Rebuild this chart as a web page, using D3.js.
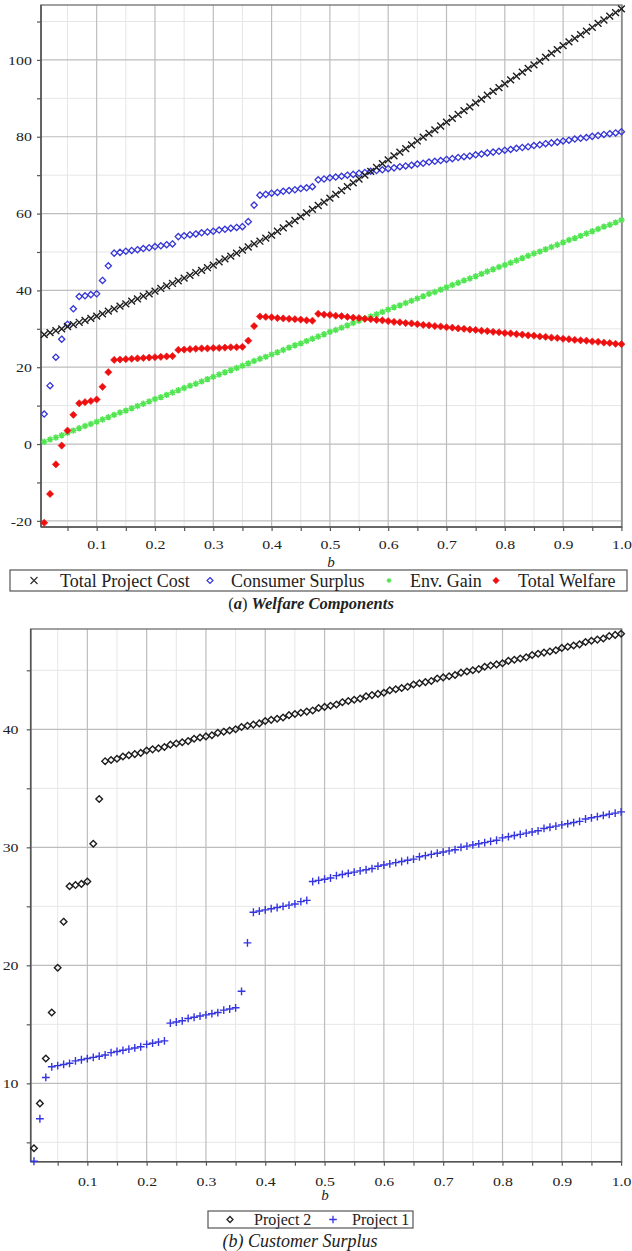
<!DOCTYPE html>
<html>
<head>
<meta charset="utf-8">
<script src="https://cdn.jsdelivr.net/npm/d3@7"></script>
<style>
  body { margin: 0; background: #fff; }
  svg text { font-family: "Liberation Serif", "Times New Roman", serif; fill: #222; }
</style>
</head>
<body>
<div id="container"></div>
<script>
/* DATA */
const bValues = [0.01,0.02,0.03,0.04,0.05,0.06,0.07,0.08,0.09,0.10,
  0.11,0.12,0.13,0.14,0.15,0.16,0.17,0.18,0.19,0.20,
  0.21,0.22,0.23,0.24,0.25,0.26,0.27,0.28,0.29,0.30,
  0.31,0.32,0.33,0.34,0.35,0.36,0.37,0.38,0.39,0.40,
  0.41,0.42,0.43,0.44,0.45,0.46,0.47,0.48,0.49,0.50,
  0.51,0.52,0.53,0.54,0.55,0.56,0.57,0.58,0.59,0.60,
  0.61,0.62,0.63,0.64,0.65,0.66,0.67,0.68,0.69,0.70,
  0.71,0.72,0.73,0.74,0.75,0.76,0.77,0.78,0.79,0.80,
  0.81,0.82,0.83,0.84,0.85,0.86,0.87,0.88,0.89,0.90,
  0.91,0.92,0.93,0.94,0.95,0.96,0.97,0.98,0.99,1.00]

// (a) Welfare Components
const totalProjectCost = [28.5,29.0,29.5,30.0,30.6,31.1,31.7,32.2,32.7,33.3,
  33.9,34.6,35.2,35.9,36.5,37.2,37.8,38.5,39.1,39.8,
  40.5,41.2,41.8,42.5,43.2,43.9,44.6,45.2,45.9,46.6,
  47.4,48.2,48.9,49.7,50.5,51.3,52.1,52.8,53.6,54.4,
  55.4,56.3,57.3,58.2,59.2,60.2,61.1,62.1,63.0,64.0,
  65.0,66.0,67.0,68.0,69.0,70.0,71.0,72.0,73.0,74.0,
  75.0,76.0,76.9,77.9,78.9,79.9,80.9,81.8,82.8,83.8,
  84.8,85.8,86.8,87.8,88.8,89.8,90.8,91.8,92.8,93.8,
  94.8,95.8,96.8,97.8,98.7,99.7,100.7,101.7,102.7,103.7,
  104.7,105.6,106.6,107.5,108.5,109.5,110.4,111.4,112.3,113.3]

const consumerSurplus = [7.8,15.2,22.6,27.3,31.2,35.2,38.4,38.6,38.9,39.1,
  42.6,46.4,49.7,49.9,50.2,50.4,50.6,50.9,51.1,51.4,
  51.6,51.9,52.1,54.0,54.2,54.5,54.7,55.0,55.2,55.4,
  55.7,55.9,56.2,56.4,56.6,57.9,62.2,64.8,65.0,65.3,
  65.5,65.8,66.0,66.2,66.5,66.7,67.0,68.8,69.0,69.3,
  69.5,69.7,70.0,70.2,70.5,70.7,71.0,71.2,71.4,71.7,
  71.9,72.2,72.4,72.6,72.9,73.1,73.4,73.6,73.8,74.1,
  74.3,74.6,74.8,75.0,75.3,75.5,75.8,76.0,76.2,76.5,
  76.7,77.0,77.2,77.4,77.7,77.9,78.2,78.4,78.6,78.9,
  79.1,79.4,79.6,79.8,80.1,80.3,80.6,80.8,81.0,81.3]

const envGain = [0.6,1.2,1.7,2.3,2.9,3.5,4.1,4.7,5.2,5.8,
  6.4,7.0,7.6,8.2,8.7,9.3,9.9,10.5,11.1,11.7,
  12.2,12.8,13.4,14.0,14.6,15.2,15.7,16.3,16.9,17.5,
  18.1,18.7,19.2,19.8,20.4,21.0,21.6,22.2,22.7,23.3,
  23.9,24.5,25.1,25.7,26.2,26.8,27.4,28.0,28.6,29.2,
  29.7,30.3,30.9,31.5,32.1,32.6,33.2,33.8,34.4,35.0,
  35.6,36.1,36.7,37.3,37.9,38.5,39.1,39.6,40.2,40.8,
  41.4,42.0,42.6,43.1,43.7,44.3,44.9,45.5,46.1,46.6,
  47.2,47.8,48.4,49.0,49.6,50.1,50.7,51.3,51.9,52.5,
  53.1,53.6,54.2,54.8,55.4,56.0,56.6,57.1,57.7,58.3]

const totalWelfare = [-20.5,-13.0,-5.3,-0.4,3.5,7.6,10.6,10.9,11.2,11.6,
  14.9,18.7,21.9,22.0,22.1,22.2,22.3,22.4,22.5,22.6,
  22.7,22.8,22.9,24.5,24.6,24.7,24.8,24.9,24.9,25.0,
  25.0,25.1,25.2,25.2,25.3,26.9,30.7,33.2,33.1,33.0,
  32.8,32.7,32.6,32.5,32.4,32.2,32.1,33.9,33.7,33.6,
  33.4,33.3,33.1,32.9,32.8,32.6,32.5,32.3,32.2,32.0,
  31.8,31.7,31.5,31.4,31.2,31.0,30.9,30.7,30.6,30.4,
  30.3,30.1,30.0,29.8,29.7,29.5,29.4,29.2,29.1,28.9,
  28.8,28.6,28.5,28.3,28.2,28.0,27.9,27.7,27.6,27.4,
  27.3,27.1,27.0,26.9,26.7,26.6,26.4,26.3,26.1,26.0]

// (b) Customer Surplus
const project2 = [4.5,8.3,12.1,16.0,19.8,23.7,26.7,26.8,26.9,27.1,
  30.3,34.1,37.3,37.4,37.5,37.7,37.8,37.9,38.0,38.2,
  38.3,38.4,38.5,38.7,38.8,38.9,39.0,39.2,39.3,39.4,
  39.5,39.7,39.8,39.9,40.0,40.2,40.3,40.4,40.5,40.7,
  40.8,40.9,41.0,41.2,41.3,41.4,41.5,41.6,41.8,41.9,
  42.0,42.1,42.3,42.4,42.5,42.6,42.8,42.9,43.0,43.1,
  43.3,43.4,43.5,43.6,43.8,43.9,44.0,44.1,44.3,44.4,
  44.5,44.6,44.8,44.9,45.0,45.1,45.3,45.4,45.5,45.6,
  45.8,45.9,46.0,46.1,46.3,46.4,46.5,46.6,46.7,46.9,
  47.0,47.1,47.2,47.4,47.5,47.6,47.7,47.9,48.0,48.1]

const project1 = [3.4,7.0,10.5,11.4,11.5,11.6,11.7,11.9,12.0,12.1,
  12.2,12.3,12.4,12.6,12.7,12.8,12.9,13.0,13.1,13.3,
  13.4,13.5,13.6,15.1,15.2,15.3,15.5,15.6,15.7,15.8,
  15.9,16.0,16.2,16.3,16.4,17.8,21.9,24.5,24.6,24.7,
  24.8,24.9,25.0,25.1,25.2,25.4,25.5,27.1,27.2,27.3,
  27.4,27.6,27.7,27.8,27.9,28.0,28.1,28.2,28.4,28.5,
  28.6,28.7,28.8,28.9,29.0,29.2,29.3,29.4,29.5,29.6,
  29.7,29.8,30.0,30.1,30.2,30.3,30.4,30.5,30.6,30.8,
  30.9,31.0,31.1,31.2,31.3,31.4,31.6,31.7,31.8,31.9,
  32.0,32.1,32.2,32.4,32.5,32.6,32.7,32.8,32.9,33.0]

// ticks
const xMajor = [0.1,0.2,0.3,0.4,0.5,0.6,0.7,0.8,0.9,1.0]
const xMinor = [0.05,0.15,0.25,0.35,0.45,0.55,0.65,0.75,0.85,0.95]
const yMajorA = [-20,0,20,40,60,80,100]
const yMinorA = [-10,10,30,50,70,90,110]
const yMajorB = [10,20,30,40]
const yMinorB = [5,15,25,35,45]

/* MARKERS */
const marker = {
  times: s => `M${-s},${-s}L${s},${s}M${-s},${s}L${s},${-s}`,
  plus: s => `M${-s},0L${s},0M0,${-s}L0,${s}`,
  diamond: s => `M0,${-s}L${s},0L0,${s}L${-s},0Z`,
  star: s => `M${-s},0L${s},0M0,${-s}L0,${s}M${-s*0.7},${-s*0.7}L${s*0.7},${s*0.7}M${-s*0.7},${s*0.7}L${s*0.7},${-s*0.7}`
}

/* SVG */
const svg = d3.select("#container")
  .append("svg")
  .attr("width", 632)
  .attr("height", 1251)

const stretch = 1.22 // tick labels in the picture are wide

function drawPanel(cfg) {
  const xScale = d3.scaleLinear().domain(cfg.xDomain).range([cfg.left, cfg.right])
  const yScale = d3.scaleLinear().domain(cfg.yDomain).range([cfg.bottom, cfg.top])
  const g = svg.append("g")

  // grid
  g.selectAll(".gxm").data(xMinor).join("line")
    .attr("x1", d => xScale(d)).attr("x2", d => xScale(d))
    .attr("y1", cfg.top).attr("y2", cfg.bottom)
    .attr("stroke", "#e6e6e6").attr("stroke-width", 1)
  g.selectAll(".gym").data(cfg.yMinor).join("line")
    .attr("x1", cfg.left).attr("x2", cfg.right)
    .attr("y1", d => yScale(d)).attr("y2", d => yScale(d))
    .attr("stroke", "#e6e6e6").attr("stroke-width", 1)
  g.selectAll(".gxM").data(xMajor).join("line")
    .attr("x1", d => xScale(d)).attr("x2", d => xScale(d))
    .attr("y1", cfg.top).attr("y2", cfg.bottom)
    .attr("stroke", "#bdbdbd").attr("stroke-width", 1.2)
  g.selectAll(".gyM").data(cfg.yMajor).join("line")
    .attr("x1", cfg.left).attr("x2", cfg.right)
    .attr("y1", d => yScale(d)).attr("y2", d => yScale(d))
    .attr("stroke", "#bdbdbd").attr("stroke-width", 1.2)

  // frame
  g.append("rect")
    .attr("x", cfg.left).attr("y", cfg.top)
    .attr("width", cfg.right - cfg.left).attr("height", cfg.bottom - cfg.top)
    .attr("fill", "none").attr("stroke", "#7a7a7a").attr("stroke-width", 1.4)

  // axes
  const styleAxis = sel => {
    sel.select(".domain").remove()
    sel.selectAll(".tick line").attr("stroke", "#555").attr("stroke-width", 1.2)
    sel.selectAll("text").attr("font-size", 13).attr("fill", "#333")
      .style("font-family", '"Liberation Serif", serif')
      .attr("transform", `scale(${stretch},1)`)
  }
  g.append("g").attr("transform", `translate(0,${cfg.bottom})`)
    .call(d3.axisBottom(xScale).tickValues(xMajor).tickSize(4).tickPadding(cfg.xPad)
      .tickFormat(d3.format(".1f")))
    .call(styleAxis)
  g.append("g").attr("transform", `translate(0,${cfg.bottom})`)
    .call(d3.axisBottom(xScale).tickValues(xMinor).tickSize(4).tickFormat(""))
    .call(styleAxis)
  g.append("g").attr("transform", `translate(${cfg.left},0)`)
    .call(d3.axisLeft(yScale).tickValues(cfg.yMajor).tickSize(4).tickPadding(cfg.yPad)
      .tickFormat(d => String(d)))
    .call(styleAxis)
  g.append("g").attr("transform", `translate(${cfg.left},0)`)
    .call(d3.axisLeft(yScale).tickValues(cfg.yMinor).tickSize(4).tickFormat(""))
    .call(styleAxis)

  // axis lines
  g.append("line").attr("x1", cfg.left).attr("x2", cfg.left)
    .attr("y1", cfg.top).attr("y2", cfg.bottom)
    .attr("stroke", "#555").attr("stroke-width", 1.6)
  g.append("line").attr("x1", cfg.left).attr("x2", cfg.right)
    .attr("y1", cfg.bottom).attr("y2", cfg.bottom)
    .attr("stroke", "#555").attr("stroke-width", 1.6)

  g.append("text").attr("x", cfg.bLabel[0]).attr("y", cfg.bLabel[1])
    .attr("text-anchor", "middle").attr("font-size", 15)
    .attr("font-style", "italic").text("b")

  // series
  cfg.series.forEach(s => {
    g.append("g").selectAll("path")
      .data(bValues.map((b, i) => ({ b: b, v: s.values[i] })))
      .join("path")
      .attr("transform", d => `translate(${xScale(d.b)},${yScale(d.v)})`)
      .attr("d", s.path)
      .attr("fill", s.fill)
      .attr("stroke", s.stroke)
      .attr("stroke-width", s.sw)
  })
}

const seriesA = [
  { name: "Env. Gain", values: envGain, path: marker.star(3.2), fill: "none", stroke: "#52e552", sw: 1.5 },
  { name: "Total Welfare", values: totalWelfare, path: marker.diamond(3.6), fill: "#ee1010", stroke: "#ee1010", sw: 0.6 },
  { name: "Consumer Surplus", values: consumerSurplus, path: marker.diamond(3.1), fill: "none", stroke: "#3535d8", sw: 1.3 },
  { name: "Total Project Cost", values: totalProjectCost, path: marker.times(3.4), fill: "none", stroke: "#1e1e1e", sw: 1.4 }
]

drawPanel({
  left: 41, right: 622, top: 5, bottom: 527,
  xDomain: [0.0045, 1.001], yDomain: [-21.6, 114.3],
  yMajor: yMajorA, yMinor: yMinorA, yPad: 3.5, xPad: 9,
  bLabel: [331, 567],
  series: seriesA
})

const seriesB = [
  { name: "Project 2", values: project2, path: marker.diamond(3.3), fill: "none", stroke: "#1e1e1e", sw: 1.4 },
  { name: "Project 1", values: project1, path: marker.plus(3.9), fill: "none", stroke: "#3535e0", sw: 1.4 }
]

drawPanel({
  left: 30.7, right: 621.7, top: 629, bottom: 1161.7,
  xDomain: [0.0045, 1.001], yDomain: [3.36, 48.5],
  yMajor: yMajorB, yMinor: yMinorB, yPad: 6, xPad: 11,
  bLabel: [325, 1200],
  series: seriesB
})

/* LEGENDS */
function legend(box, items, fontSize) {
  const g = svg.append("g")
  g.append("rect").attr("x", box[0]).attr("y", box[1])
    .attr("width", box[2]).attr("height", box[3])
    .attr("fill", "#fff").attr("stroke", "#555").attr("stroke-width", 1.2)
  items.forEach(it => {
    g.append("path").attr("transform", `translate(${it.sx},${box[1] + box[3] / 2})`)
      .attr("d", it.path).attr("fill", it.fill).attr("stroke", it.stroke).attr("stroke-width", it.sw)
    g.append("text").attr("x", it.tx).attr("y", box[1] + box[3] / 2 + fontSize * 0.34)
      .attr("font-size", fontSize).text(it.name)
  })
}

legend([10, 570, 617, 21], [
  { name: "Total Project Cost", sx: 34, tx: 60, path: marker.times(3.5), fill: "none", stroke: "#2a2a2a", sw: 1.1 },
  { name: "Consumer Surplus", sx: 210, tx: 231, path: marker.diamond(3), fill: "none", stroke: "#3535d8", sw: 1.2 },
  { name: "Env. Gain", sx: 389, tx: 410, path: marker.star(2.4), fill: "none", stroke: "#52e552", sw: 1.1 },
  { name: "Total Welfare", sx: 496, tx: 518, path: marker.diamond(3.2), fill: "#ee1010", stroke: "#ee1010", sw: 0.6 }
], 18)

legend([208, 1211, 205, 17], [
  { name: "Project 2", sx: 230, tx: 254, path: marker.diamond(3), fill: "none", stroke: "#222", sw: 1.3 },
  { name: "Project 1", sx: 333, tx: 352, path: marker.plus(3.8), fill: "none", stroke: "#3535e0", sw: 1.3 }
], 16)

/* CAPTIONS */
const capA = svg.append("text").attr("x", 311).attr("y", 609)
  .attr("text-anchor", "middle").attr("font-size", 16.5)
capA.append("tspan").text("(")
capA.append("tspan").attr("font-style", "italic").attr("font-weight", "bold").text("a")
capA.append("tspan").text(")  ")
capA.append("tspan").attr("font-style", "italic").attr("font-weight", "bold").text("Welfare Components")

svg.append("text").attr("x", 300).attr("y", 1247)
  .attr("text-anchor", "middle").attr("font-size", 18)
  .attr("font-style", "italic").text("(b) Customer Surplus")
</script>
</body>
</html>
